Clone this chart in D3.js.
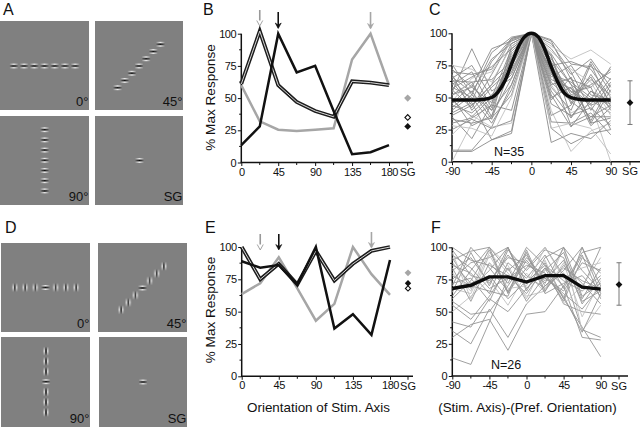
<!DOCTYPE html>
<html><head><meta charset="utf-8">
<script src="https://cdn.jsdelivr.net/npm/d3@7/dist/d3.min.js"></script>
<style>html,body{margin:0;padding:0;background:#fff}svg{display:block}text{font-family:"Liberation Sans",Arial,sans-serif;fill:#111}</style>
</head><body><svg id="c" width="640" height="427"></svg>
<script>
const orient=[0,22.5,45,67.5,90,112.5,135,157.5,180];
const rel=[-90,-67.5,-45,-22.5,0,22.5,45,67.5,90];
const orientTicks=[0,45,90,135,180];
const relTicks=[-90,-45,0,45,90];
const yTicks=[0,25,50,75,100];

const bGray=[60,32,25.5,24.5,25.5,26.5,80,100,60];
const bDouble=[61,102,60,47,40,35.5,63,62,60];
const bBlack=[13.5,28,100,70,75,40,6.5,8,13.5];
const bSG=[50,35,28];
const eGray=[63.5,72,92,68,43,56,100,79,63];
const eDouble=[100,75,87,71,97,74,87,97,100];
const eBlack=[89,84,86,71,100,37,48,32,90];
const eSG=[80,68,72];

const cMeanX=[-90,-70,-55,-45,-38,-30,-22.5,-15,-8,0,8,15,22.5,30,38,45,55,70,90];
const cMeanY=[48,48,48.5,50,54,63,76,89,97,100,97,88,74,62,53,50,48.5,48,48];
const fMean=[68,70.5,77,77,73,78,78,69,67.5];
const cSG=[46,29,63];
const fSG=[71,55,88];

const cLines=[
[0,30,48,70,100,60,38,45,0],
[8,8,17,22,100,15,22,18,32],
[9,9,27,60,100,26,14,22,25],
[21,36,27,30,100,40,8,24,30],
[25,33,26,32,100,31,30,38,21],
[35,18,45,80,100,52,27,48,38],
[38,46,17,24,100,62,47,35,44],
[42,55,33,75,100,70,28,35,35],
[45,60,40,82,100,50,58,28,42],
[48,35,50,88,100,83,35,55,47],
[50,28,36,65,100,58,40,76,43],
[52,62,35,90,100,60,65,30,56],
[54,88,55,65,100,72,55,44,50],
[56,42,68,95,100,76,48,64,52],
[58,50,30,56,100,80,60,32,60],
[60,70,42,86,100,68,62,50,45],
[62,44,60,92,100,92,70,40,62],
[63,62,64,78,100,82,45,78,54],
[64,48,78,96,100,78,52,60,70],
[65,75,50,70,100,66,75,52,48],
[66,54,80,92,100,88,68,80,58],
[68,40,58,72,100,64,57,45,65],
[70,68,72,96,100,75,78,72,50],
[72,58,46,84,100,94,64,58,72],
[75,72,62,90,100,90,80,87,76],
[76,52,85,97,100,72,50,66,40],
[47,65,70,94,100,86,72,62,36],
[44,38,52,68,100,48,66,30,34],
[40,52,40,60,100,55,34,55,42],
[36,44,60,76,100,36,44,68,46],
[33,30,34,52,100,45,36,42,28],
[30,34,44,40,100,70,54,58,25],
[52,58,88,94,100,95,76,74,64],
[28,26,20,50,100,26,30,26,6],
[57,66,74,88,100,84,60,48,74]];
const cLight=[0,3,24,26,33];

const fLines=[
[14,9,42,76,73,86,60,38,15],
[30,40,44,20,48,50,70,30,28],
[35,25,52,30,56,70,80,36,30],
[42,38,60,50,68,84,56,50,48],
[50,62,75,55,80,65,100,35,55],
[58,48,50,70,92,76,64,52,70],
[62,82,100,65,84,100,78,68,100],
[65,96,70,100,72,88,60,100,64],
[68,64,96,80,62,66,88,46,74],
[70,100,84,66,90,72,100,82,66],
[72,76,58,88,76,94,68,94,60],
[75,88,92,100,68,82,96,60,84],
[78,70,66,62,96,64,72,78,62],
[80,66,100,86,60,90,56,70,92],
[82,92,72,94,78,68,82,100,70],
[84,58,88,72,100,86,74,66,78],
[86,80,64,98,82,98,92,56,76],
[88,72,78,60,74,76,66,88,82],
[90,97,100,82,94,70,84,74,68],
[92,68,82,100,66,92,100,62,72],
[94,84,68,76,86,80,58,92,80],
[96,60,94,68,70,100,76,84,88],
[98,78,74,92,88,74,90,58,66],
[100,90,86,78,64,84,70,96,100],
[60,74,98,64,98,66,86,72,56],
[55,44,62,84,58,78,62,34,64]];
const fLight=[4,8,13,21];

const panels={
 B:{x:[241.3,389],sgX:407.7,end:413,y:[162.5,33.7]},
 C:{x:[452,610.7],sgX:630,end:640,y:[161.7,33.3]},
 E:{x:[241.7,390],sgX:408,end:413,y:[376.3,247]},
 F:{x:[452.3,600.7],sgX:619,end:628,y:[376,247.3]}
};
const svg=d3.select('#c');

function frame(p,dom,ticks){
 const x=d3.scaleLinear().domain(dom).range(p.x);
 const y=d3.scaleLinear().domain([0,100]).range(p.y);
 const g=svg.append('g');
 const ax=g.append('g').attr('transform',`translate(0,${p.y[0]})`)
  .call(d3.axisBottom(x).tickValues(ticks).tickSize(3.5).tickSizeOuter(0).tickFormat(d=>String(d)));
 ax.select('.domain').remove();
 const minor=d3.range(dom[0],dom[1]+.1,22.5).filter(v=>!ticks.includes(v));
 g.selectAll('.mx').data(minor).join('line').attr('x1',d=>x(d)).attr('x2',d=>x(d)).attr('y1',p.y[0]).attr('y2',p.y[0]+2.5).attr('stroke','#111').attr('stroke-width',1);
 g.append('line').attr('x1',p.x[0]-.7).attr('x2',p.end).attr('y1',p.y[0]).attr('y2',p.y[0]).attr('stroke','#111').attr('stroke-width',1.5);
 g.append('line').attr('x1',p.sgX).attr('x2',p.sgX).attr('y1',p.y[0]).attr('y2',p.y[0]+3.5).attr('stroke','#111').attr('stroke-width',1);
 g.append('text').attr('x',p.sgX).attr('y',p.y[0]+13.5).attr('text-anchor','middle').attr('font-size',11).text('SG');
 const ay=g.append('g').attr('transform',`translate(${p.x[0]},0)`)
  .call(d3.axisLeft(y).tickValues(yTicks).tickSize(3.5).tickSizeOuter(0));
 ay.select('.domain').remove();
 g.append('line').attr('x1',p.x[0]).attr('x2',p.x[0]).attr('y1',p.y[0]).attr('y2',p.y[1]).attr('stroke','#111').attr('stroke-width',1.5);
 g.selectAll('.my').data([12.5,37.5,62.5,87.5]).join('line').attr('x1',p.x[0]-2.2).attr('x2',p.x[0]).attr('y1',d=>y(d)).attr('y2',d=>y(d)).attr('stroke','#111');
 g.selectAll('.tick text').attr('font-size',11).attr('font-family','"Liberation Sans",Arial,sans-serif').attr('fill','#111').style('letter-spacing','-0.4px');
 ax.selectAll('.tick text').attr('dy','0.71em').attr('y',5.2);
 ay.selectAll('.tick text').attr('x',-5);
 g.selectAll('.tick line').attr('stroke','#111');
 return {x,y};
}
function line(s,xs,ys,stroke,w,curve){
 const l=d3.line().x((d,i)=>s.x(xs[i])).y(d=>s.y(d)).curve(curve||d3.curveLinear);
 svg.append('path').attr('d',l(ys)).attr('fill','none').attr('stroke',stroke).attr('stroke-width',w).attr('stroke-linejoin','miter');
}
function doubleLine(s,xs,ys){line(s,xs,ys,'#1c1c1c',3.8);line(s,xs,ys,'#d8d8d8',1);}
function diamond(cx,cy,fill,stroke,r){
 svg.append('path').attr('d',d3.symbol(d3.symbolSquare,r*r*2)()).attr('transform',`translate(${cx},${cy}) rotate(45)`).attr('fill',fill).attr('stroke',stroke).attr('stroke-width',stroke==='none'?0:1.1);
}
function arrow(px,y1,y2,color,open){
 svg.append('line').attr('x1',px).attr('x2',px).attr('y1',y1).attr('y2',y2-1).attr('stroke',color).attr('stroke-width',1.6);
 const h=svg.append('path').attr('d',`M${px-3},${y2-5.5}L${px},${y2}L${px+3},${y2-5.5}`+(open?'':'L'+px+','+(y2-3.5)+'Z'));
 h.attr('fill',open?'#fff':color).attr('stroke',color).attr('stroke-width',open?.9:.6);
}
function lbl(t,x,y,size){return svg.append('text').attr('x',x).attr('y',y).attr('font-size',size).text(t);}

let s=frame(panels.B,[0,180],orientTicks);
line(s,orient,bGray,'#a6a6a6',2.5);
doubleLine(s,orient,bDouble);
line(s,orient,bBlack,'#111',2.5);
diamond(panels.B.sgX,s.y(bSG[0]),'#a6a6a6','none',3.6);
diamond(panels.B.sgX,s.y(bSG[1]),'#fff','#111',2.8);
diamond(panels.B.sgX,s.y(bSG[2]),'#111','none',3.4);
arrow(s.x(22.5),10,26,'#999',true);
arrow(s.x(45),12,28.5,'#111',false);
arrow(s.x(157.5),12,29,'#a6a6a6',false);

s=frame(panels.E,[0,180],orientTicks);
line(s,orient,eGray,'#a6a6a6',2.5);
doubleLine(s,orient,eDouble);
line(s,orient,eBlack,'#111',2.5);
diamond(panels.E.sgX,s.y(eSG[0]),'#a6a6a6','none',3.4);
diamond(panels.E.sgX,s.y(eSG[1]),'#fff','#111',2.6);
diamond(panels.E.sgX,s.y(eSG[2]),'#111','none',3.2);
arrow(s.x(22.5),234,250,'#999',true);
arrow(s.x(45),234,250,'#111',false);
arrow(s.x(157.5),232,248,'#a6a6a6',false);

s=frame(panels.C,[-90,90],relTicks);
cLines.forEach((r,i)=>line(s,rel,r,cLight.includes(i)?'#c0c0c0':'#8a8a8a',.9));
line(s,cMeanX,cMeanY,'#0c0c0c',3.5,d3.curveMonotoneX);
svg.append('line').attr('x1',panels.C.sgX).attr('x2',panels.C.sgX).attr('y1',s.y(cSG[1])).attr('y2',s.y(cSG[2])).attr('stroke','#777');
cSG.slice(1).forEach(v=>svg.append('line').attr('x1',panels.C.sgX-2.5).attr('x2',panels.C.sgX+2.5).attr('y1',s.y(v)).attr('y2',s.y(v)).attr('stroke','#777'));
diamond(panels.C.sgX,s.y(cSG[0]),'#111','none',3.4);
lbl('N=35',494,156,12.5);

s=frame(panels.F,[-90,90],relTicks);
fLines.forEach((r,i)=>line(s,rel,r,fLight.includes(i)?'#c0c0c0':'#959595',.9));
line(s,rel,fMean,'#0c0c0c',3.4);
svg.append('line').attr('x1',panels.F.sgX).attr('x2',panels.F.sgX).attr('y1',s.y(fSG[1])).attr('y2',s.y(fSG[2])).attr('stroke','#777');
fSG.slice(1).forEach(v=>svg.append('line').attr('x1',panels.F.sgX-2.5).attr('x2',panels.F.sgX+2.5).attr('y1',s.y(v)).attr('y2',s.y(v)).attr('stroke','#777'));
diamond(panels.F.sgX,s.y(fSG[0]),'#111','none',3.4);
lbl('N=26',491,369,12.5);

[97.5,310].forEach(cy=>svg.append('text').attr('transform',`translate(214.5,${cy}) rotate(-90)`).attr('text-anchor','middle').attr('font-size',13.6).text('% Max Response'));
svg.append('text').attr('x',318.5).attr('y',412).attr('text-anchor','middle').attr('font-size',13.4).text('Orientation of Stim. Axis');
svg.append('text').attr('x',527.5).attr('y',412).attr('text-anchor','middle').attr('font-size',13.4).text('(Stim. Axis)-(Pref. Orientation)');
[['A',3,15],['B',203,15],['C',429,15],['D',5,233],['E',205,233],['F',431,233]].forEach(d=>lbl(d[0],d[1],d[2],16));

const gaborIndex=[-3,-2,-1,0,1,2,3];
const defs=svg.append('defs');
defs.append('filter').attr('id','bl').attr('x','-50%').attr('y','-50%').attr('width','200%').attr('height','200%').append('feGaussianBlur').attr('stdDeviation',.5);
[['gl','#ececec'],['gd','#0c0c0c']].forEach(([id,c])=>{
 const lg=defs.append('linearGradient').attr('id',id);
 [[0,0],[.5,1],[1,0]].forEach(([o,a])=>lg.append('stop').attr('offset',o).attr('stop-color',c).attr('stop-opacity',a));
});
const stimGap=10.2;
function gabor(cx,cy,vertical){
 const g=svg.append('g').attr('transform',`translate(${cx},${cy})${vertical?' rotate(90)':''}`).attr('filter','url(#bl)');
 [[-1.8,'gl',1.3],[0,'gd',1.3],[1.8,'gl',1.3]].forEach(([o,c,h])=>g.append('rect').attr('x',-4.6).attr('y',o-h/2).attr('width',9.2).attr('height',h).attr('fill',`url(#${c})`));
}
function stim(x0,y0,w,h,label,kind,cx,cy,center){
 svg.append('rect').attr('x',x0).attr('y',y0).attr('width',w).attr('height',h).attr('fill','#808080');
 const dirs={h:[1,0],d:[.7,-.71],v:[0,1]};
 if(kind==='sg'){gabor(cx,cy,false);}
 else gaborIndex.forEach(i=>{
  const [dx,dy]=dirs[kind];
  const px=d3.scaleLinear().domain([-3,3]).range([cx-3*stimGap*dx,cx+3*stimGap*dx])(i);
  const py=d3.scaleLinear().domain([-3,3]).range([cy-3*stimGap*dy,cy+3*stimGap*dy])(i);
  gabor(px,py,center&&i!==0);
 });
 svg.append('text').attr('x',x0+w-.5).attr('y',y0+h-4.5).attr('text-anchor','end').attr('font-size',13).text(label);
}
stim(0,21,89,89,'0°','h',44.5,66,false);
stim(95,21,88,89,'45°','d',139,66,false);
stim(0,116,89,89,'90°','v',44.7,160.3,false);
stim(95,116,88,89,'SG','sg',139.5,160.5,false);
stim(1,243,89,89,'0°','h',45.5,287.5,true);
stim(98,243,89,89,'45°','d',142.5,288,true);
stim(1,337,89,90,'90°','v',46,381.7,true);
stim(99,337,88,90,'SG','sg',143,382,true);
</script></body></html>
